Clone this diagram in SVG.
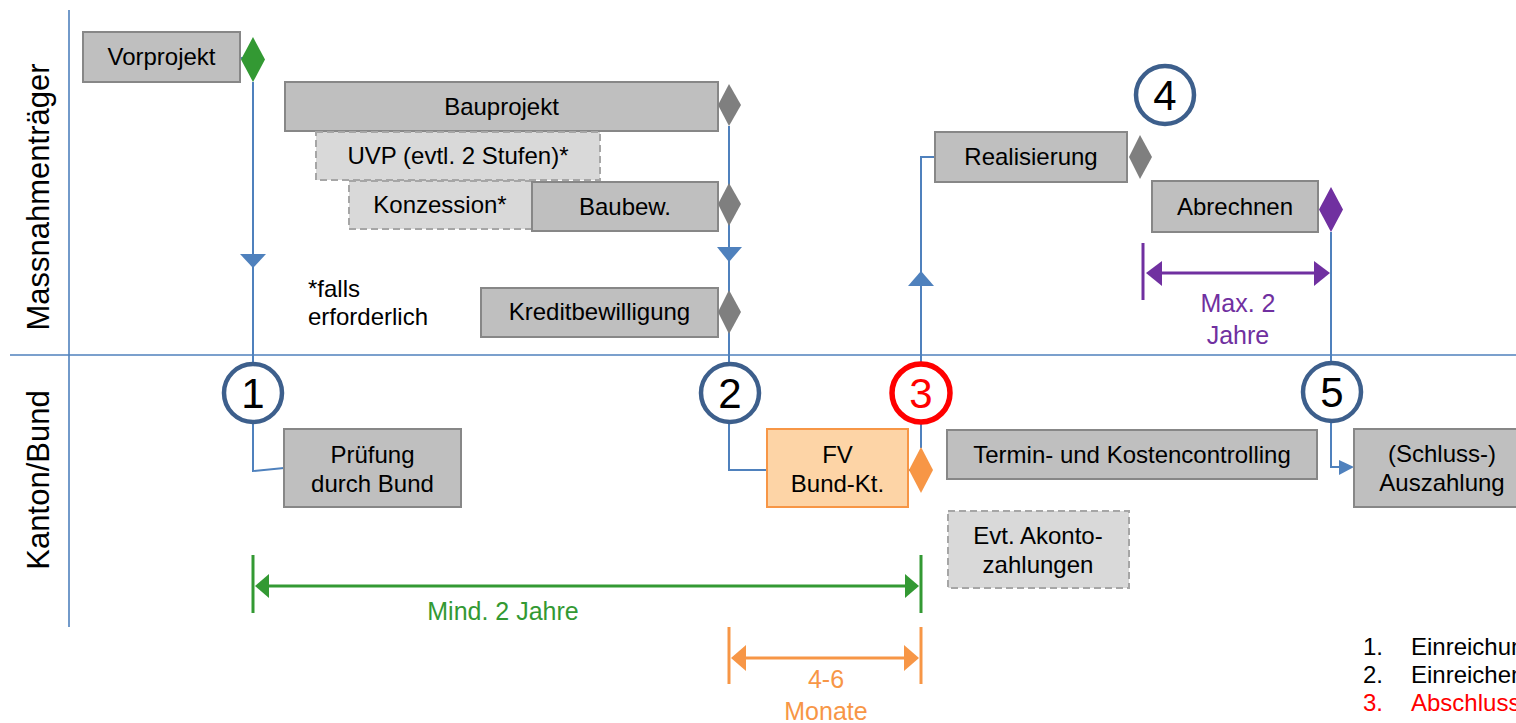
<svg xmlns="http://www.w3.org/2000/svg" width="1516" height="723" viewBox="0 0 1516 723">
<style>
text{font-family:"Liberation Sans",Arial,sans-serif;font-size:24px;fill:#000}
.c{text-anchor:middle}
.box{fill:#BFBFBF;stroke:#878787;stroke-width:2}
.dash{fill:#D9D9D9;stroke:#A6A6A6;stroke-width:2;stroke-dasharray:7 4}
.fv{fill:#FDD4A6;stroke:#F79646;stroke-width:2}
.ln{fill:none;stroke:#4F81BD;stroke-width:2}
.ax{fill:none;stroke:#4F81BD;stroke-width:1.6}
.tri{fill:#4F81BD}
.dg{fill:#7F7F7F}
.circ{fill:#fff;stroke:#3D5F8C;stroke-width:4.5}
.num{font-size:42px}
.lab{font-size:31px}
.gr{stroke:#339933;stroke-width:3;fill:none}
.grf{fill:#339933}
.or{stroke:#F79646;stroke-width:3;fill:none}
.orf{fill:#F79646}
.pu{stroke:#7030A0;stroke-width:3;fill:none}
.puf{fill:#7030A0}
</style>

<g id="axes">
<line class="ax" x1="69" y1="10" x2="69" y2="627"/>
<line class="ax" x1="10" y1="355" x2="1516" y2="355"/>
<text class="lab c" transform="translate(49,197) rotate(-90)">Massnahmenträger</text>
<text class="lab c" transform="translate(49,480) rotate(-90)">Kanton/Bund</text>
</g>

<g id="connectors">
<line class="ln" x1="240" y1="58" x2="253" y2="58"/>
<line class="ln" x1="253" y1="82" x2="253" y2="364"/>
<polygon class="tri" points="240,254 266,254 253,268"/>
<polyline class="ln" points="253,422 253,471 284,468"/>
<line class="ln" x1="729" y1="126" x2="729" y2="364"/>
<polygon class="tri" points="717,247 742,247 729,262"/>
<polyline class="ln" points="729,422 729,470 767,470"/>
<polyline class="ln" points="935,157 921,157 921,364"/>
<polygon class="tri" points="908,286 934,286 921,271"/>
<line class="ln" x1="921" y1="422" x2="921" y2="448"/>
<line class="ln" x1="907" y1="470" x2="910" y2="470"/>
<line class="ln" x1="1331" y1="232" x2="1331" y2="363"/>
<polyline class="ln" points="1331,421 1331,467 1342,467"/>
<polygon class="tri" points="1339,460 1354,467 1339,475"/>
</g>

<g id="vorprojekt">
<rect class="box" x="83" y="32" width="157" height="50"/>
<text class="c" x="161.5" y="65">Vorprojekt</text>
<polygon fill="#339933" points="253,37 265,59.5 253,82 241,59.5"/>
</g>

<g id="bauprojekt">
<rect class="box" x="285" y="82" width="433" height="49"/>
<text class="c" x="501.5" y="115">Bauprojekt</text>
<polygon class="dg" points="729,84 741,105 729,126 718,105"/>
</g>

<g id="uvp">
<rect class="dash" x="316" y="132" width="284" height="48"/>
<text class="c" x="458" y="164">UVP (evtl. 2 Stufen)*</text>
</g>

<g id="konzession">
<rect class="dash" x="349" y="181" width="183" height="48"/>
<text class="c" x="440" y="213">Konzession*</text>
</g>

<g id="baubew">
<rect class="box" x="532" y="182" width="186" height="49"/>
<text class="c" x="625" y="215">Baubew.</text>
<polygon class="dg" points="729,183 741,204 729,226 718,204"/>
</g>

<g id="kredit">
<rect class="box" x="481" y="288" width="237" height="49"/>
<text class="c" x="599.5" y="320">Kreditbewilligung</text>
<polygon class="dg" points="729,290 741,312 729,334 718,312"/>
</g>

<g id="note">
<text x="308" y="297">*falls</text>
<text x="308" y="325">erforderlich</text>
</g>

<g id="realisierung">
<rect class="box" x="935" y="132" width="192" height="50"/>
<text class="c" x="1031" y="165">Realisierung</text>
<polygon class="dg" points="1140,135 1152,157 1140,179 1129,157"/>
</g>

<g id="abrechnen">
<rect class="box" x="1152" y="181" width="166" height="51"/>
<text class="c" x="1235" y="215">Abrechnen</text>
<polygon class="puf" points="1331,187 1343,209.5 1331,232 1319,209.5"/>
</g>

<g id="m1">
<circle class="circ" cx="253" cy="393" r="29"/>
<text class="num c" x="253" y="408">1</text>
</g>
<g id="m2">
<circle class="circ" cx="730" cy="393" r="29"/>
<text class="num c" x="730" y="408">2</text>
</g>
<g id="m3">
<circle fill="#fff" stroke="#FF0000" stroke-width="5.5" cx="921" cy="393" r="29"/>
<text class="num c" x="921" y="408" style="fill:#FF0000">3</text>
</g>
<g id="m4">
<circle class="circ" cx="1165" cy="95" r="29"/>
<text class="num c" x="1165" y="110">4</text>
</g>
<g id="m5">
<circle class="circ" cx="1332" cy="392" r="29"/>
<text class="num c" x="1332" y="407">5</text>
</g>

<g id="pruefung">
<rect class="box" x="284" y="429" width="177" height="78"/>
<text class="c" x="372.5" y="463">Prüfung</text>
<text class="c" x="372.5" y="492">durch Bund</text>
</g>

<g id="fv">
<rect class="fv" x="767" y="429" width="141" height="78"/>
<text class="c" x="837.5" y="463">FV</text>
<text class="c" x="837.5" y="492">Bund-Kt.</text>
<polygon class="orf" points="921,447 933,470 921,493 909,470"/>
</g>

<g id="termin">
<rect class="box" x="947" y="430" width="370" height="49"/>
<text class="c" x="1132" y="463">Termin- und Kostencontrolling</text>
</g>

<g id="akonto">
<rect class="dash" x="948" y="511" width="181" height="77"/>
<text class="c" x="1038" y="544">Evt. Akonto-</text>
<text class="c" x="1038" y="573">zahlungen</text>
</g>

<g id="auszahlung">
<rect class="box" x="1354" y="429" width="170" height="78"/>
<text class="c" x="1442" y="462">(Schluss-)</text>
<text class="c" x="1442" y="491">Auszahlung</text>
</g>

<g id="dim-green">
<line class="gr" x1="253" y1="555" x2="253" y2="613"/>
<line class="gr" x1="921" y1="555" x2="921" y2="613"/>
<line class="gr" x1="262" y1="586" x2="912" y2="586"/>
<polygon class="grf" points="255,586 269,574 269,598"/>
<polygon class="grf" points="919,586 905,574 905,598"/>
<text class="c" x="503" y="620" style="fill:#339933;font-size:25px">Mind. 2 Jahre</text>
</g>

<g id="dim-orange">
<line class="or" x1="729" y1="627" x2="729" y2="684"/>
<line class="or" x1="921" y1="627" x2="921" y2="684"/>
<line class="or" x1="740" y1="658" x2="910" y2="658"/>
<polygon class="orf" points="731,658 746,645 746,671"/>
<polygon class="orf" points="919,658 904,645 904,671"/>
<text class="c" x="826" y="688" style="fill:#F79646;font-size:25px">4-6</text>
<text class="c" x="826" y="720" style="fill:#F79646;font-size:25px">Monate</text>
</g>

<g id="dim-purple">
<line class="pu" x1="1143" y1="243" x2="1143" y2="300"/>
<line class="pu" x1="1155" y1="273" x2="1320" y2="273"/>
<polygon class="puf" points="1146,273 1162,261 1162,286"/>
<polygon class="puf" points="1330,273 1314,261 1314,286"/>
<text class="c" x="1238" y="312" style="fill:#7030A0;font-size:25px">Max. 2</text>
<text class="c" x="1238" y="344" style="fill:#7030A0;font-size:25px">Jahre</text>
</g>

<g id="legend">
<text x="1363" y="655">1.</text>
<text x="1411" y="655">Einreichung</text>
<text x="1363" y="683">2.</text>
<text x="1411" y="683">Einreichen</text>
<text x="1363" y="711" style="fill:#FF0000">3.</text>
<text x="1411" y="711" style="fill:#FF0000">Abschluss</text>
</g>
</svg>
